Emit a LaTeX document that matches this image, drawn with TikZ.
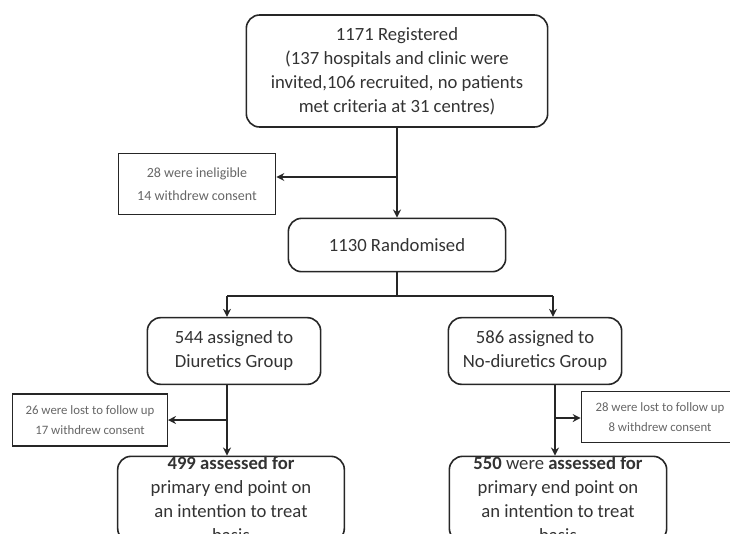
\documentclass[tikz,border=0pt]{standalone}
\usepackage{fontspec}
\setmainfont{Carlito}
\usetikzlibrary{arrows.meta,positioning}

\begin{document}
\begin{tikzpicture}[x=0.75pt,y=-0.75pt,
  box/.style={draw=black!85,line width=1.2pt,rounded corners=10pt,align=center,
    text=black!80,font=\fontsize{14}{18}\selectfont,inner sep=0pt},
  sidebox/.style={draw=black!85,line width=1pt,align=center,text=black!60,inner sep=0pt},
  line/.style={draw=black!85,line width=1.2pt},
  arr/.style={line,-{Stealth[length=6pt,width=6pt]}}]
  \clip (0,0) rectangle (730,533);
  % Enrolment
  \node[box,minimum width=226pt,minimum height=84pt] (reg) at (397,71)
    {1171 Registered\\(137 hospitals and clinic were\\invited,106 recruited, no patients\\met criteria at 31 centres)};
  \node[sidebox,minimum width=118pt,minimum height=46pt,font=\fontsize{10.5}{17}\selectfont] (inelig) at (197,184)
    {28 were ineligible\\14 withdrew consent};
  \node[box,minimum width=163pt,minimum height=40pt] (rand) at (397,245) {1130 Randomised};
  % Allocation
  \node[box,minimum width=130pt,minimum height=50pt] (diur) at (234,351) {544 assigned to\\Diuretics Group};
  \node[box,minimum width=130pt,minimum height=50pt] (nodiur) at (535,351) {586 assigned to\\No-diuretics Group};
  % Follow up
  \node[sidebox,minimum width=116pt,minimum height=39pt,font=\fontsize{9.6}{15}\selectfont] (lloss) at (90,420)
    {26 were lost to follow up\\17 withdrew consent};
  \node[sidebox,minimum width=118pt,minimum height=38pt,font=\fontsize{9.6}{15}\selectfont] (rloss) at (660,417)
    {28 were lost to follow up\\8 withdrew consent};
  % Analysis
  \node[box,minimum width=170pt,minimum height=64pt] (lres) at (231,499)
    {\textbf{499 assessed for}\\primary end point on\\an intention to treat\\basis};
  \node[box,minimum width=163pt,minimum height=64pt] (rres) at (558,499)
    {\textbf{550} were \textbf{assessed for}\\primary end point on\\an intention to treat\\basis};
  % Connectors
  \coordinate (j1) at (397,177);
  \draw[arr] (reg.south) -- (rand.north);
  \draw[arr] (j1) -- (j1 -| inelig.east);
  \coordinate (lsplit) at (227,296);
  \coordinate (rsplit) at (553,296);
  \draw[line] (rand.south) -- (rand.south |- lsplit);
  \draw[line] (lsplit) -- (rsplit);
  \draw[arr] (lsplit) -- (lsplit |- diur.north);
  \draw[arr] (rsplit) -- (rsplit |- nodiur.north);
  \coordinate (lbr) at (227,420);
  \coordinate (rbr) at (555,418);
  \draw[arr] (lbr |- diur.south) -- (lbr |- lres.north);
  \draw[arr] (lbr) -- (lbr -| lloss.east);
  \draw[arr] (rbr |- nodiur.south) -- (rbr |- rres.north);
  \draw[arr] (rbr) -- (rbr -| rloss.west);
\end{tikzpicture}
\end{document}
